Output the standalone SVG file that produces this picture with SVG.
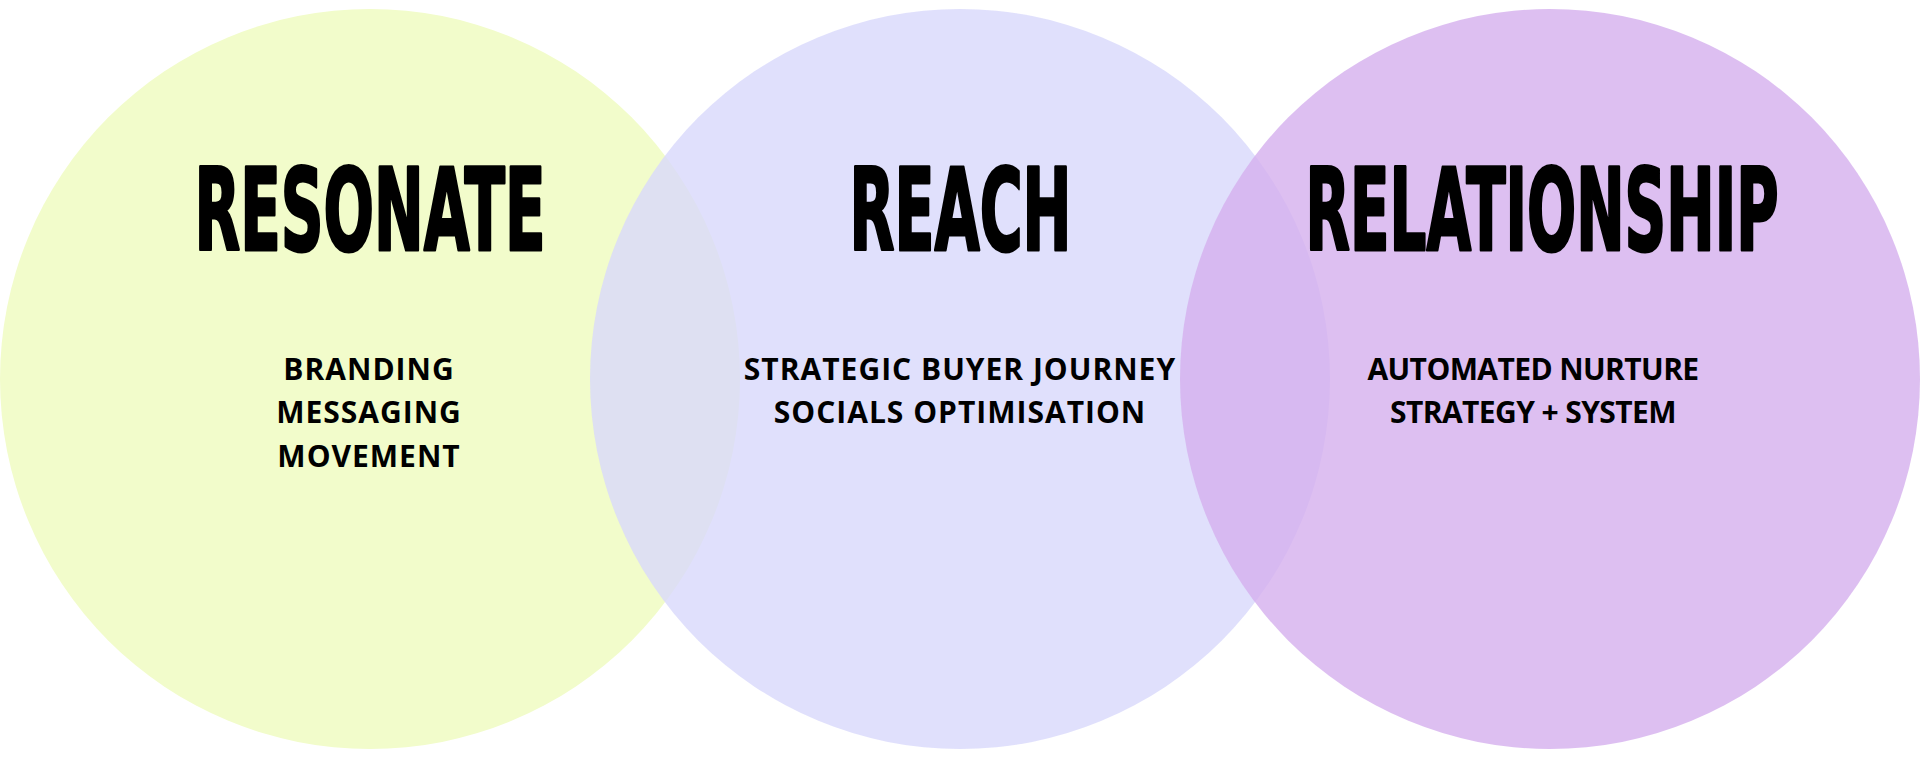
<svg xmlns="http://www.w3.org/2000/svg" width="1920" height="763" viewBox="0 0 1920 763">
<style>
.h{font-family:"Liberation Sans Narrow","DejaVu Sans Condensed","Liberation Sans",sans-serif;font-weight:bold;font-size:114px;fill:#000;stroke:#000;stroke-width:3px;stroke-linejoin:round}
.b{font-family:"Open Sans","Noto Sans","Liberation Sans",sans-serif;font-weight:bold;font-size:30px;fill:#000;text-anchor:middle;letter-spacing:1px}
.r{letter-spacing:-0.6px}
</style>
<rect width="1920" height="763" fill="#ffffff"/>
<g id="resonate">
<circle cx="370" cy="379" r="370" fill="#F2FCCB"/>
</g>
<g id="reach">
<circle cx="960" cy="379" r="370" fill="rgb(216,216,251)" fill-opacity="0.8"/>
</g>
<g id="relationship">
<circle cx="1550" cy="379" r="370" fill="rgb(212,175,238)" fill-opacity="0.8"/>
</g>
<g id="labels">
<text class="h" x="194.5" y="249.5" textLength="351" lengthAdjust="spacingAndGlyphs">RESONATE</text>
<text class="b" x="369" y="380">BRANDING</text>
<text class="b" x="369" y="423">MESSAGING</text>
<text class="b" x="369" y="467">MOVEMENT</text>
<text class="h" x="849.5" y="249.5" textLength="222" lengthAdjust="spacingAndGlyphs">REACH</text>
<text class="b" x="960" y="380">STRATEGIC BUYER JOURNEY</text>
<text class="b" x="960" y="423">SOCIALS OPTIMISATION</text>
<text class="h" x="1305.5" y="249.5" textLength="473" lengthAdjust="spacingAndGlyphs">RELATIONSHIP</text>
<text class="b r" x="1533" y="380">AUTOMATED NURTURE</text>
<text class="b r" x="1533" y="423">STRATEGY + SYSTEM</text>
</g>
<g id="connectors"></g>
</svg>
